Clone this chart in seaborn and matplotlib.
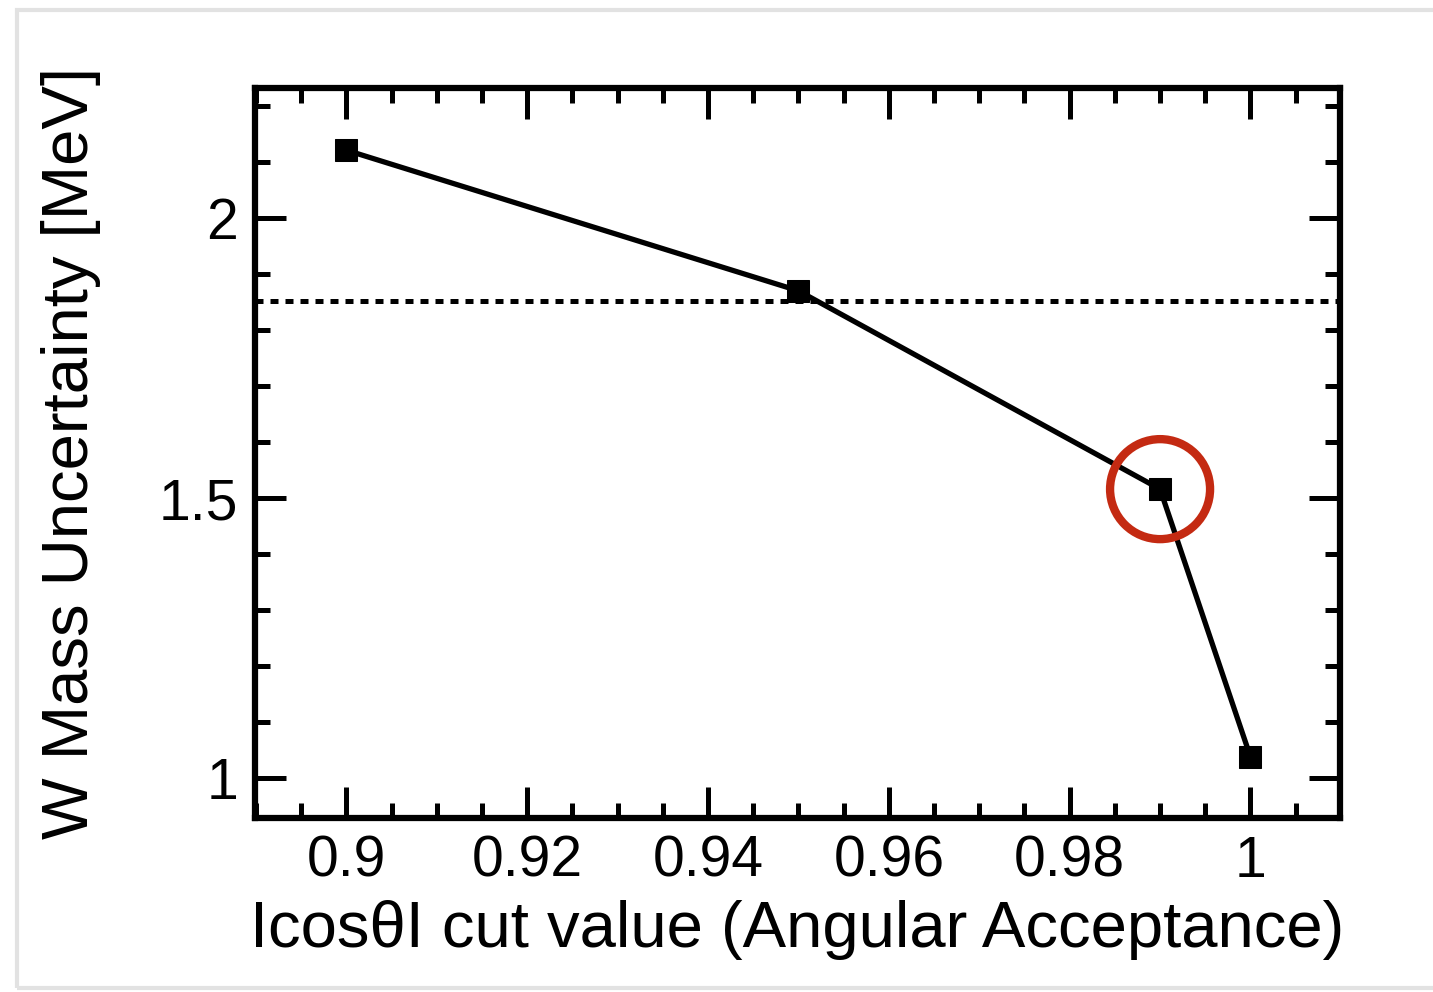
import matplotlib
matplotlib.use("Agg")
import matplotlib.pyplot as plt
import seaborn as sns
import pandas as pd
from matplotlib.ticker import MultipleLocator, FuncFormatter
from matplotlib.patches import Rectangle

cut_values = [0.90, 0.95, 0.99, 1.00]
uncertainty = [2.121, 1.870, 1.516, 1.038]
reference_level = 1.852
highlight_x = [0.99]
highlight_y = [1.516]
x_ticks = [0.90, 0.92, 0.94, 0.96, 0.98, 1.00]
y_ticks = [1.0, 1.5, 2.0]

sns.set_theme(style="ticks")
plt.rcParams['font.family'] = ['Liberation Sans', 'DejaVu Sans']

fig = plt.figure(figsize=(14.33, 9.92), dpi=100)
fig.patch.set_facecolor("white")
fig.patches.append(Rectangle((17/1433, 4/992), 1.2, (992-4-10)/992, transform=fig.transFigure,
                             fill=False, edgecolor="#e2e2e2", linewidth=3, zorder=0))
ax = fig.add_axes([255/1433, 1-818/992, (1340-255)/1433, (818-88)/992])

df = pd.DataFrame({"cut": cut_values, "unc": uncertainty})
sns.lineplot(data=df, x="cut", y="unc", ax=ax, color="black",
             marker="s", markersize=16, markeredgecolor="black", markerfacecolor="black")
for ln in ax.lines:
    ln.set_linewidth(3.8)
ax.axhline(reference_level, color="black", linestyle=(0, (1.6, 1.4)), linewidth=3.6)
ax.scatter(highlight_x, highlight_y, s=72**2, facecolors="none", edgecolors="#c42a12",
           linewidths=6, zorder=5)

ax.set_xlim(0.8899, 1.0099)
ax.set_ylim(0.929, 2.232)
ax.set_xticks(x_ticks)
ax.set_yticks(y_ticks)
ax.xaxis.set_minor_locator(MultipleLocator(0.005))
ax.yaxis.set_minor_locator(MultipleLocator(0.1))
ax.xaxis.set_major_formatter(FuncFormatter(lambda v, p: f"{v:g}"))
ax.yaxis.set_major_formatter(FuncFormatter(lambda v, p: f"{v:g}"))
ax.tick_params(which="both", direction="in", top=True, right=True, width=3.6, color="black",
               labelsize=41, labelcolor="black")
ax.tick_params(which="major", length=22, pad=12)
ax.tick_params(which="minor", length=11)
for s in ax.spines.values():
    s.set_linewidth(4.5)
    s.set_color("black")
    s.set_visible(True)

ax.set_xlabel("Icos\u03b8I cut value (Angular Acceptance)", fontsize=47, color="black", labelpad=8)
ax.set_ylabel("W Mass Uncertainty [MeV]", fontsize=47, color="black", labelpad=42)
ax.grid(False)

fig.savefig("out.png", dpi=100, facecolor="white")
